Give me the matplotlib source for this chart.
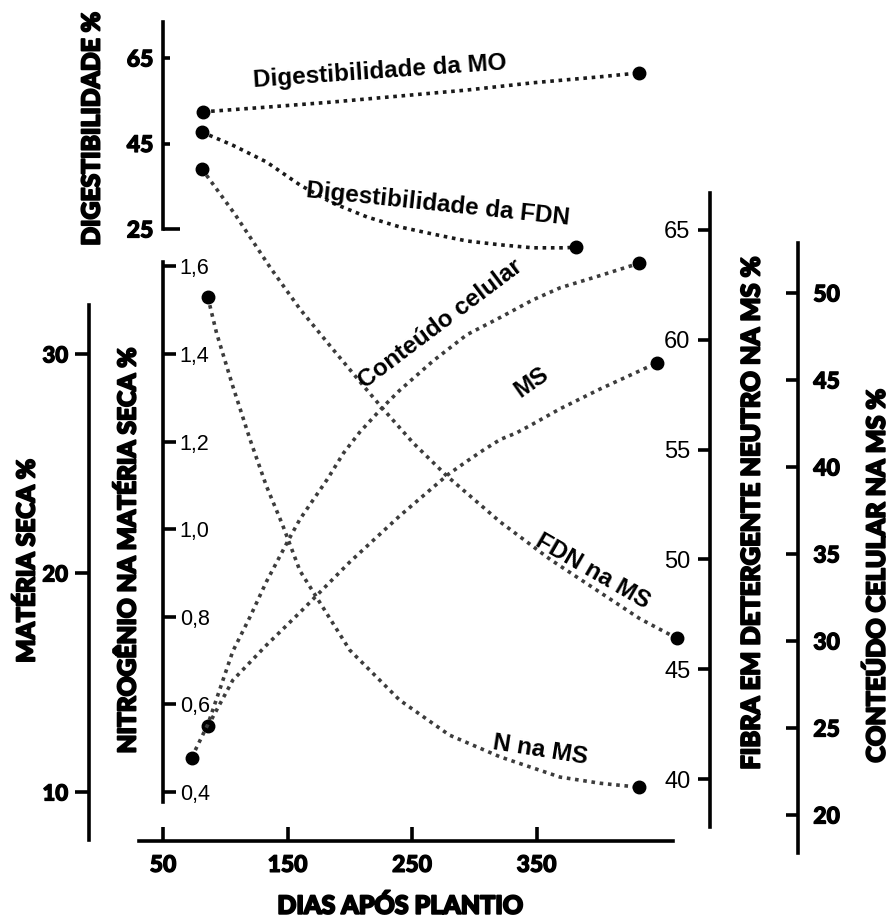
import matplotlib
matplotlib.use('Agg')
import matplotlib.pyplot as plt
import matplotlib.patheffects as pe

# Valores (dias após plantio e valor em cada escala)
dias_mo = [82, 133, 186, 240, 294, 347, 401, 432]
dig_mo = [52.4, 53.5, 54.7, 56.1, 57.5, 59.2, 60.6, 61.5]

dias_dfdn = [81, 106, 133, 160, 186, 214, 240, 267, 294, 321, 347, 374, 382]
dig_fdn = [47.7, 44.6, 40.7, 35.3, 31.1, 27.8, 25.5, 23.8, 22.2, 21.3, 20.6, 20.6, 20.8]

dias_fdn = [81, 108, 136, 160, 186, 214, 226, 251, 278, 321, 361, 401, 433, 463]
fdn_ms = [67.8, 65.7, 63.3, 61.4, 59.6, 57.7, 56.9, 55.3, 53.8, 51.7, 50.0, 48.5, 47.3, 46.4]

dias_cc = [73, 86, 96, 106, 120, 133, 150, 160, 182, 195, 208, 226, 240, 267, 294, 321, 347, 369, 401, 432]
cont_cel = [23.3, 25.2, 27.3, 29.4, 31.4, 33.4, 35.7, 37.0, 39.3, 40.8, 42.0, 43.4, 44.4, 46.1,
            47.6, 48.6, 49.6, 50.3, 51.0, 51.7]

dias_ms = [86, 106, 133, 160, 200, 240, 279, 294, 307, 321, 334, 347, 369, 401, 447]
mat_seca = [13.0, 15.1, 16.7, 18.2, 20.5, 22.6, 24.5, 25.1, 25.6, 26.1, 26.4, 26.8, 27.5, 28.4, 29.6]

dias_n = [86, 93, 106, 120, 133, 146, 160, 200, 240, 280, 321, 369, 401, 432]
nitrog = [1.53, 1.448, 1.327, 1.204, 1.099, 1.010, 0.905, 0.724, 0.610, 0.530, 0.480, 0.434, 0.420, 0.411]

ticks_x = [50, 150, 250, 350]
ticks_dig = [45, 65]
tick_dig_base = [25]
ticks_ms = [10, 20, 30]
ticks_n = [0.4, 0.6, 0.8, 1.0, 1.2, 1.4, 1.6]
rotulos_n = ['0,4', '0,6', '0,8', '1,0', '1,2', '1,4', '1,6']
ticks_fdn = [40, 45, 50, 55, 60, 65]
ticks_cc = [20, 25, 30, 35, 40, 45, 50]

plt.rcParams['font.family'] = ['Liberation Sans', 'DejaVu Sans']

W, H = 889, 919
fig = plt.figure(figsize=(W / 100, H / 100), dpi=100)

# area dos eixos em pixels
x0, x1 = 100, 700
y0, y1 = 10, 841
ax = fig.add_axes([x0 / W, 1 - y1 / H, (x1 - x0) / W, (y1 - y0) / H])


def escala(v1, p1, v2, p2):
    k = (v2 - v1) / (p2 - p1)
    return lambda p: v1 + (p - p1) * k


px_dia = escala(50, 163, 250, 412)
ax.set_xlim(px_dia(x0), px_dia(x1))

pesado = dict(family=['Lato', 'DejaVu Sans'], weight='black')
normal = dict(family=['Liberation Sans', 'DejaVu Sans'])
grosso = [pe.withStroke(linewidth=0.9, foreground='black')]
LW = 2.6

for s in ax.spines.values():
    s.set_visible(False)
ax.spines['bottom'].set_visible(True)
ax.spines['bottom'].set_linewidth(LW)
ax.spines['bottom'].set_bounds(px_dia(139), px_dia(673))
ax.yaxis.set_visible(False)
ax.set_xticks(ticks_x)
ax.set_xticklabels([str(t) for t in ticks_x], size=16.5, **pesado)
ax.tick_params(axis='x', direction='in', length=10, width=LW, pad=10)
for lb in ax.get_xticklabels():
    lb.set_path_effects(grosso)


def eixo_y(lado, spine_px, f, topo_px, base_px, ticks, labels, direcao, tam, pad, fonte, forte=False):
    a = ax.twinx()
    a.set_ylim(f(y1), f(y0))
    for s in a.spines.values():
        s.set_visible(False)
    sp = a.spines[lado]
    sp.set_visible(True)
    sp.set_linewidth(LW)
    sp.set_position(('axes', (spine_px - x0) / (x1 - x0)))
    sp.set_bounds(f(base_px), f(topo_px))
    if lado == 'left':
        a.yaxis.tick_left()
    else:
        a.yaxis.tick_right()
    a.set_yticks(ticks)
    a.set_yticklabels(labels, **fonte)
    a.tick_params(axis='y', direction=direcao, length=tam, width=LW, pad=pad)
    if forte:
        for lb in a.get_yticklabels():
            lb.set_path_effects(grosso)
    return a


ax_dig = eixo_y('left', 163, escala(25, 229, 65, 58), 22, 229, ticks_dig,
                [str(t) for t in ticks_dig], 'in', 5, 7, dict(size=16.5, **pesado), True)
# marca do 25 em forma de L, mais comprida
ax_dig.set_yticks(tick_dig_base, minor=True)
ax_dig.set_yticklabels([str(t) for t in tick_dig_base], minor=True, size=16.5, **pesado)
ax_dig.tick_params(axis='y', which='minor', direction='in', length=12, width=LW, pad=7)
for lb in ax_dig.get_yticklabels(minor=True):
    lb.set_path_effects(grosso)

ax_ms = eixo_y('left', 89, escala(10, 792, 30, 354), 305, 840, ticks_ms,
               [str(t) for t in ticks_ms], 'out', 10, 5, dict(size=16, **pesado), True)
ax_n = eixo_y('right', 163, escala(0.4, 792, 1.4, 354), 262, 802, ticks_n,
              rotulos_n, 'out', 9, 3, dict(size=15.5, **normal))
ax_fdn = eixo_y('left', 710, escala(40, 779, 65, 230), 193, 827, ticks_fdn,
                [str(t) for t in ticks_fdn], 'out', 9, 5, dict(size=17, **normal))
ax_cc = eixo_y('right', 798, escala(20, 815, 45, 380), 243, 853, ticks_cc,
               [str(t) for t in ticks_cc], 'in', 9, 11, dict(size=16.5, **pesado), True)


def curva(a, x, y, cor):
    a.plot(x, y, linestyle=(0, (1, 1.3)), linewidth=LW, color=cor, dash_capstyle='butt',
           marker='o', markersize=9, markevery=[0, len(x) - 1],
           markerfacecolor='black', markeredgecolor='black', clip_on=False)


curva(ax_dig, dias_mo, dig_mo, '#1a1a1a')
curva(ax_dig, dias_dfdn, dig_fdn, '#1a1a1a')
curva(ax_fdn, dias_fdn, fdn_ms, '#3c3c3c')
curva(ax_cc, dias_cc, cont_cel, '#3c3c3c')
curva(ax_ms, dias_ms, mat_seca, '#3c3c3c')
curva(ax_n, dias_n, nitrog, '#3c3c3c')


def texto(px, py, s, rot=0, **kw):
    return fig.text(px / W, 1 - py / H, s, rotation=rot, ha='center', va='center',
                    rotation_mode='anchor', **kw)


# nomes das curvas
curva_fonte = dict(family=['Liberation Sans', 'DejaVu Sans'], weight='bold', size=17.5)
texto(380, 72, 'Digestibilidade da MO', 4, **curva_fonte)
texto(438, 204, 'Digestibilidade da FDN', -6, **curva_fonte)
texto(440, 324, 'Conteúdo celular', 37, **curva_fonte)
texto(532, 382, 'MS', 35, **curva_fonte)
texto(593, 571, 'FDN na MS', -30, **curva_fonte)
texto(540, 750, 'N na MS', -9, **curva_fonte)

# titulos dos eixos, com o tamanho ajustado ao comprimento que têm na figura
render = fig.canvas.get_renderer()


def titulo(px, py, s, comp, rot):
    t = texto(px, py, s, 0, size=20, **pesado)
    w = t.get_window_extent(renderer=render).width
    t.set_size(20 * comp / w)
    t.set_rotation(rot)
    t.set_path_effects([pe.withStroke(linewidth=1.4, foreground='black')])


titulo(92, 129, 'DIGESTIBILIDADE %', 234, 90)
titulo(27, 561, 'MATÉRIA SECA %', 204, 90)
titulo(128, 550, 'NITROGÊNIO NA MATÉRIA SECA %', 406, 90)
titulo(752, 514, 'FIBRA EM DETERGENTE NEUTRO NA MS %', 513, 90)
titulo(877, 576, 'CONTEÚDO CELULAR NA MS %', 374, 90)
titulo(400, 906, 'DIAS APÓS PLANTIO', 246, 0)

fig.savefig('out.png', dpi=100)
